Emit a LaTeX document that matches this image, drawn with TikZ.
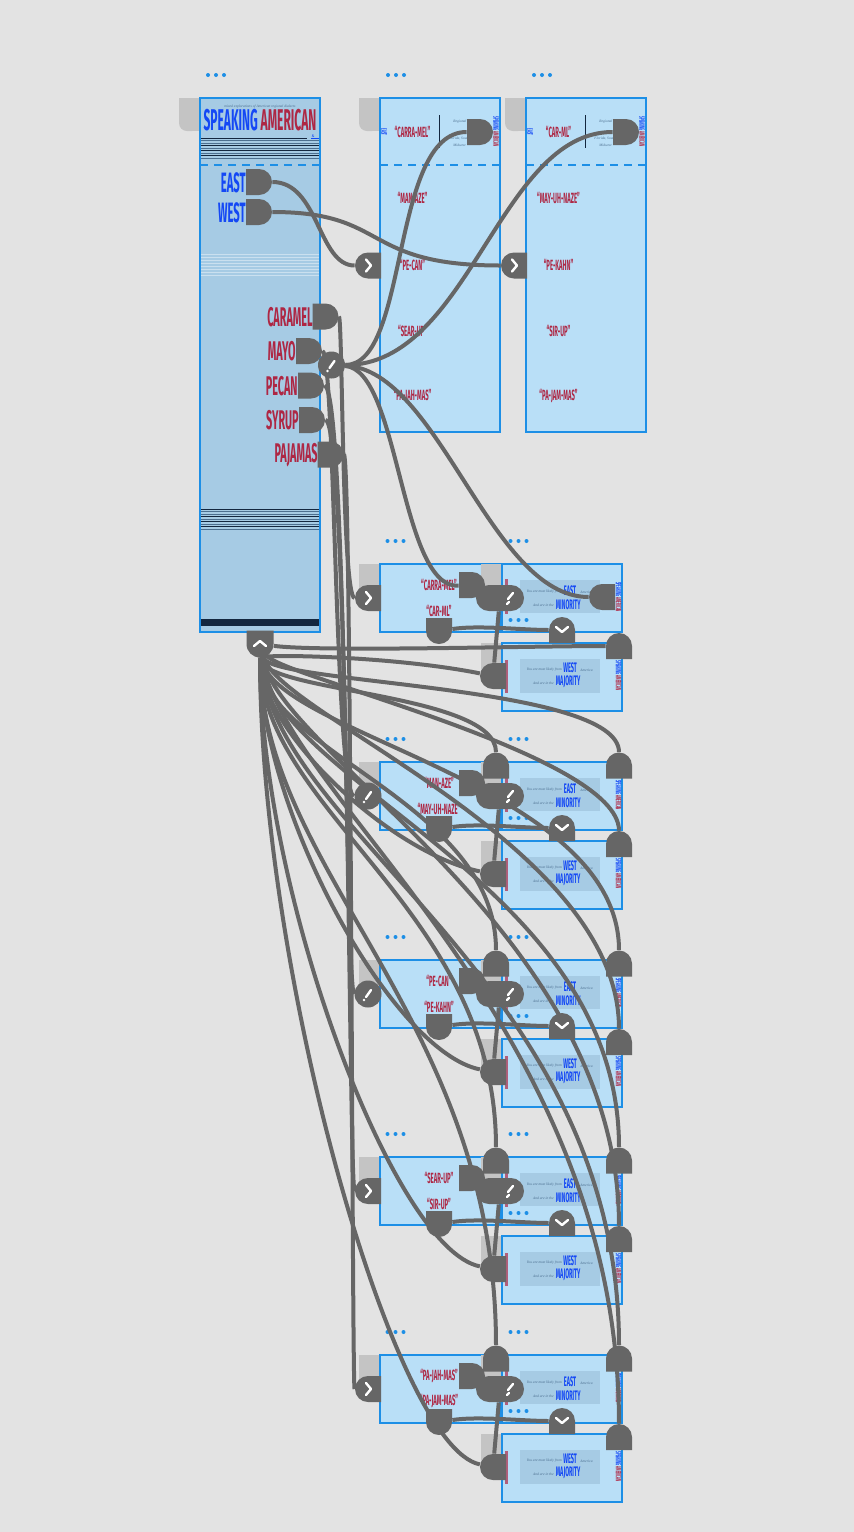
\documentclass[tikz,border=0pt]{standalone}
\usepackage{fontspec}
\setmainfont{Fira Sans}
\newfontfamily\condf[FakeStretch=0.4]{Fira Sans}
\newfontfamily\notef{Liberation Serif}
\usepackage{tikz}
\usetikzlibrary{calc,shapes.misc}
\definecolor{canvas}{HTML}{E3E3E3}
\definecolor{sheet}{HTML}{A6CBE4}
\definecolor{cardfill}{HTML}{B9DFF7}
\definecolor{edge}{HTML}{1D8FE6}
\definecolor{wiregray}{HTML}{666666}
\definecolor{tabgray}{HTML}{C4C4C4}
\definecolor{inkblue}{HTML}{1448F5}
\definecolor{inkred}{HTML}{AE2744}
\definecolor{navy}{HTML}{13273F}
\definecolor{slate}{HTML}{4C6F8F}
\pgfdeclarelayer{bg}
\pgfdeclarelayer{wires}
\pgfsetlayers{bg,wires,main}
\newcommand\moredots[2]{\foreach \d in {-8,0,8}{\fill[edge] (#1+\d,#2) circle (1pt);}}
\newcommand\cardtab[2]{%
  \fill[tabgray,rounded corners=4pt] (#1-21,#2) rectangle (#1,#2+33);
  \fill[tabgray] (#1-21,#2) rectangle (#1,#2+10);
  \fill[tabgray] (#1-8,#2) rectangle (#1,#2+33);}
\newcommand\chevR[1]{\draw[glyph] ($(#1)+(-2,-6)$) -- ++(5,6) -- ++(-5,6);}
\newcommand\chevD[1]{\draw[glyph] ($(#1)+(-6,-3)$) -- ++(6,5) -- ++(6,-5);}
\newcommand\chevU[1]{\draw[glyph] ($(#1)+(-6,2)$) -- ++(6,-5) -- ++(6,5);}
\newcommand\slashK[1]{\draw[glyph] ($(#1)+(-2,3)$) -- ++(5,-7); \fill[white] ($(#1)+(-4,6)$) circle (0.7pt);}
\newcommand\toggleK[1]{\draw[glyph] ($(#1)+(8,1)$) -- ++(5,-6); \draw[glyph] ($(#1)+(7,6)$) -- ++(2,-2);}
\tikzset{
  card/.style={draw=edge, line width=1pt, fill=cardfill},
  link/.style={draw=wiregray, line width=2pt},
  port/.style={rounded rectangle, fill=wiregray, inner sep=0pt, minimum width=13pt, minimum height=13pt},
  portR/.style={port, rounded rectangle west arc=none},
  portL/.style={port, rounded rectangle east arc=none},
  portU/.style={portR, rotate=90},
  portD/.style={portR, rotate=-90},
  inport/.style={portL, minimum width=12.5pt},
  pill/.style={port, minimum width=24pt},
  knob/.style={circle, fill=wiregray, inner sep=0pt, minimum size=13.5pt},
  glyph/.style={draw=white, line width=1.2pt, line cap=round, line join=round},
  big/.style={inner sep=0pt, font=\condf\bfseries\fontsize{14}{14}\selectfont},
  word/.style={inner sep=0pt, anchor=east, text=inkred, font=\condf\bfseries\fontsize{13.5}{13.5}\selectfont},
  say/.style={inner sep=0pt, text=inkred, font=\condf\bfseries\fontsize{7.4}{7.4}\selectfont},
  note/.style={inner sep=0pt, text=slate, font=\notef\itshape\fontsize{1.8}{2}\selectfont},
  verdict/.style={inner sep=0pt, anchor=west, text=inkblue, font=\condf\bfseries\fontsize{6.9}{7}\selectfont},
  edgetag/.style={rotate=-90, inner sep=0pt, font=\condf\bfseries\fontsize{3.9}{4}\selectfont},
}
\begin{document}
\begin{tikzpicture}[x=0.5pt,y=-0.5pt]
\useasboundingbox (0,0) rectangle (854,1532);

\begin{pgfonlayer}{bg}
\fill[canvas] (0,0) rectangle (854,1532);
% dialect sheet
\moredots{216}{75}
\cardtab{200}{98}
\draw[card, fill=sheet] (200,98) rectangle (320,632);
\node[note] (intro) at (260,106.5) {mixed explorations of American regional dialects};
\node[big, font=\condf\bfseries\fontsize{15}{15}\selectfont] (title) at (260,120.5) {\textcolor{inkblue}{SPEAKING} \textcolor{inkred}{AMERICAN}};
\draw[navy, line width=0.7pt] (201,138.3) -- (307,138.3);
\draw[inkblue, line width=0.7pt] (311,138.3) -- (319,138.3);
\node[inner sep=0pt, text=inkblue, font=\fontsize{2}{2}\selectfont] (amp) at (313,136.2) {\&};
\foreach \y/\c in {140.7/slate,143.3/slate,145.7/navy,148.3/slate,150.7/navy,153.3/slate,155.7/navy,158.3/slate}
  \draw[\c, line width=0.7pt] (201,\y) -- (319,\y);
\draw[edge, line width=1pt, dash pattern=on 4pt off 3pt] (200,165) -- (320,165);
\node[big, anchor=east, text=inkblue] (eastW) at (246,183) {EAST};
\node[big, anchor=east, text=inkblue] (westW) at (246,213) {WEST};
\foreach \y in {254,257,...,276}
  \draw[white!40!sheet, line width=0.5pt] (201,\y) -- (319,\y);
\foreach \w/\x/\y in {CARAMEL/313/317, MAYO/296/351, PECAN/298/386, SYRUP/299/420.5, PAJAMAS/318/455}
  \node[word] (w\w) at (\x,\y) {\w};
\foreach \y/\c in {509.3/navy,511.7/slate,514.3/slate,516.7/navy,519.3/slate,521.7/navy,524.3/slate,526.7/navy,529.3/slate}
  \draw[\c, line width=0.7pt] (201,\y) -- (319,\y);
\fill[navy] (201,619) rectangle (319,626);

% pronunciation cards
\foreach \k/\X/\la/\lb/\lc/\ld/\le in {1/380/“CARRA-MEL”/“MAN-AZE”/“PE-CAN”/“SEAR-UP”/“PA-JAH-MAS”,
                                      2/526/“CAR-ML”/“MAY-UH-NAZE”/“PE-KAHN”/“SIR-UP”/“PA-JAM-MAS”}{
  \moredots{\X+16}{75}
  \cardtab{\X}{98}
  \draw[card] (\X,98) rectangle (\X+120,432);
  \node[say] (head\k) at (\X+32.5,132) {\la};
  \draw[navy, line width=0.6pt] (\X+59.5,115) -- (\X+59.5,148);
  \node[note, anchor=west] (reg\k) at (\X+73,122) {Regional};
  \node[note, anchor=west] (fl\k) at (\X+68,139) {Florida, South};
  \node[note, anchor=west] (mw\k) at (\X+73,145) {Midwest};
  \node[edgetag, text=inkblue] (ltag\k) at (\X+4,132) {EAST};
  \node[edgetag] (rtag\k) at (\X+116,131.5) {\textcolor{inkblue}{SPEAKING}\,\textcolor{inkred}{AMERICAN}};
  \draw[edge, line width=1pt, dash pattern=on 4pt off 3pt] (\X,165) -- (\X+120,165);
  \node[say] (sa\k) at (\X+32.5,198) {\lb};
  \node[say] (sb\k) at (\X+32.5,265) {\lc};
  \node[say] (sc\k) at (\X+32.5,331) {\ld};
  \node[say] (sd\k) at (\X+32.5,396.5) {\le};
}
\end{pgfonlayer}

\node[portR] (eastP) at (259,182) {};
\node[portR] (westP) at (259,212) {};
\node[portR] (caramelP) at (325.5,316.5) {};
\node[portR] (mayoP) at (309,351) {};
\node[portR] (pecanP) at (311,385.5) {};
\node[portR] (syrupP) at (312,420) {};
\node[portR] (pajamasP) at (330.5,454.5) {};
\node[knob] (tog0) at (331.5,365) {};
\slashK{tog0}
\node[portD, minimum height=13.5pt, minimum width=11.5pt] (up0) at (260,644) {};
\chevU{up0}
\foreach \k/\X in {1/380,2/526}{
  \node[portR] (hdr\k) at (\X+100,132) {};
  \node[inport] (in\k) at (\X-12,265.5) {};
  \chevR{in\k}
}

% answer groups
\foreach \g/\Y/\la/\lb/\ik/\gm in {0/564/“CARRA-MEL”/“CAR-ML”/inport/\chevR,
                                   1/762/“MAN-AZE”/“MAY-UH-NAZE”/knob/\slashK,
                                   2/960/“PE-CAN”/“PE-KAHN”/knob/\slashK,
                                   3/1157/“SEAR-UP”/“SIR-UP”/inport/\chevR,
                                   4/1355/“PA-JAH-MAS”/“PA-JAM-MAS”/inport/\chevR}{
  \begin{pgfonlayer}{bg}
  \moredots{395.5}{\Y-23}
  \moredots{518.5}{\Y-23}
  \cardtab{380}{\Y}
  \draw[card] (380,\Y) rectangle (500,\Y+68);
  \cardtab{502}{\Y}
  \draw[card] (502,\Y) rectangle (622,\Y+68);
  \cardtab{502}{\Y+79}
  \draw[card] (502,\Y+79) rectangle (622,\Y+147);
  \moredots{518.5}{\Y+56}
  \node[say] (qa\g) at (439,\Y+21) {\la};
  \node[say] (qb\g) at (439,\Y+46.5) {\lb};
  \fill[sheet] (520,\Y+16) rectangle (600,\Y+49);
  \fill[sheet] (520,\Y+95) rectangle (600,\Y+129);
  \fill[inkred!70!cardfill] (505,\Y+15) rectangle (507.5,\Y+50);
  \fill[inkred!70!cardfill] (505,\Y+96) rectangle (507.5,\Y+129);
  \node[note, anchor=east] (fa\g) at (562,\Y+28) {You are most likely from};
  \node[verdict] (ea\g) at (563.5,\Y+26.5) {EAST};
  \node[note, anchor=west] (aa\g) at (580,\Y+28) {America};
  \node[note, anchor=east] (ia\g) at (554,\Y+41) {And are in the};
  \node[verdict] (mi\g) at (555.5,\Y+40.5) {MINORITY};
  \node[note, anchor=east] (fb\g) at (562,\Y+106) {You are most likely from};
  \node[verdict] (we\g) at (563,\Y+103.5) {WEST};
  \node[note, anchor=west] (ab\g) at (580,\Y+106) {America};
  \node[note, anchor=east] (ib\g) at (554,\Y+119) {And are in the};
  \node[verdict] (ma\g) at (555.5,\Y+117.5) {MAJORITY};
  \node[edgetag] (tb\g) at (618.5,\Y+33) {\textcolor{inkblue}{SPEAKING}\,\textcolor{inkred}{AMERICAN}};
  \node[edgetag] (tc\g) at (618.5,\Y+111.5) {\textcolor{inkblue}{SPEAKING}\,\textcolor{inkred}{AMERICAN}};
  \end{pgfonlayer}
  \node[\ik] (inA\g) at (368,\Y+34) {};
  \gm{inA\g}
  \node[portR] (pA\g) at (472,\Y+21) {};
  \node[portD] (pB\g) at (439,\Y+67) {};
  \node[pill] (tg\g) at (500,\Y+34) {};
  \toggleK{tg\g}
  \node[portU] (dn\g) at (562,\Y+66) {};
  \chevD{dn\g}
  \node[portL] (pC\g) at (493,\Y+112) {};
  \node[portU] (pD\g) at (619,\Y+82) {};
  \ifnum\g>0
    \node[portU] (pE\g) at (496,\Y+3.5) {};
    \node[portU] (pF\g) at (619,\Y+3.5) {};
  \else
    \node[portL] (pG\g) at (602,\Y+33) {};
  \fi
}

\begin{pgfonlayer}{wires}
\draw[link] (eastP) .. controls +(60,0) and +(-50,0) .. (in1);
\draw[link] (westP) .. controls +(131,0) and +(-154,0) .. (in2);
\draw[link] (tog0) .. controls +(78,0) and +(-90,0) .. (hdr1);
\draw[link] (tog0) .. controls +(138,0) and +(-127,0) .. (hdr2);
\draw[link] (tog0) .. controls +(68,5) and +(-72,4) .. (pA0);
\draw[link] (tog0) .. controls +(108,5) and +(-112,0) .. (pG0);
\foreach \s/\g/\a/\b in {caramelP/0/17/-26, mayoP/1/26/-33, pecanP/2/35/-22, syrupP/3/37/-19, pajamasP/4/21/-16}
  \draw[link] (\s) .. controls +(\a,0) and +(\b,0) .. (inA\g);
\draw[link] (up0) .. controls +(60,8) and +(-90,0) .. (pD0);
\foreach \g/\Y in {1/762,2/960,3/1157,4/1355}{
  \draw[link] (up0) .. controls +(0,{0.3*(\Y-600)}) and +(0,{-0.45*(\Y-600)}) .. (pE\g);
  \draw[link] (up0) .. controls +(10,{0.25*(\Y-600)}) and +(0,{-0.5*(\Y-600)}) .. (pF\g);
  \draw[link] (up0) .. controls +(20,{0.2*(\Y-600)}) and +(0,{-0.55*(\Y-600)}) .. (pD\g);
}
\foreach \g/\Y in {0/564,1/762,2/960,3/1157,4/1355}{
  \draw[link] (up0) .. controls +(0,{0.4*(\Y-540)}) and +(-100,-20) .. (pC\g);
  \draw[link] (tg\g) -- (pC\g);
  \draw[link] (pB\g) .. controls +(40,-6) and +(-40,0) .. (dn\g);
}
\end{pgfonlayer}
\end{tikzpicture}
\end{document}
